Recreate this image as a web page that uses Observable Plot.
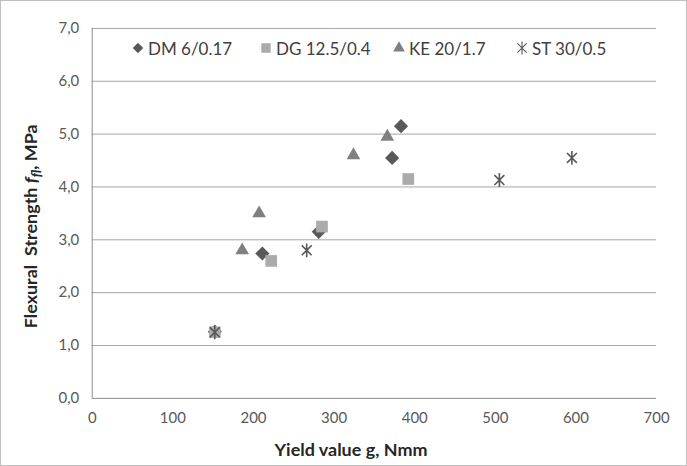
<!DOCTYPE html>
<html>
<head>
<meta charset="utf-8">
<script src="https://cdn.jsdelivr.net/npm/d3@7"></script>
<script src="https://cdn.jsdelivr.net/npm/@observablehq/plot@0.6"></script>
<style>
  html, body { margin: 0; padding: 0; background: #fff; }
  #chart { position: relative; width: 687px; height: 466px; box-sizing: border-box; border: 1px solid #bfbfbf; overflow: hidden; font-family: Lato, "Open Sans", sans-serif; }
  #chart > svg { position: absolute; left: -1px; top: -1px; }
  #legend { position: absolute; top: 0; left: 0; font-size: 17px; color: #404040; }
  #legend .item { position: absolute; display: flex; align-items: center; white-space: nowrap; height: 20px; }
  #legend svg { margin-right: 3px; }
</style>
</head>
<body>
<div id="chart"><div id="legend"></div></div>
<script>
const seriesNames = ["DM 6/0.17", "DG 12.5/0.4", "KE 20/1.7", "ST 30/0.5"];
const dmX = [152, 211, 281, 372, 383];
const dmY = [1.26, 2.74, 3.15, 4.55, 5.15];
const dgX = [152, 222, 285, 392];
const dgY = [1.25, 2.60, 3.25, 4.15];
const keX = [186, 207, 324, 366];
const keY = [2.80, 3.50, 4.60, 4.95];
const stX = [152, 266, 505, 595];
const stY = [1.25, 2.80, 4.13, 4.55];
const xTicks = [0, 100, 200, 300, 400, 500, 600, 700];
const yTicks = [0, 1, 2, 3, 4, 5, 6, 7];
const xTitle = "Yield value g, Nmm";

const toRows = (xs, ys, s) => xs.map((x, i) => ({x, y: ys[i], s}));
const dm = toRows(dmX, dmY, seriesNames[0]);
const dg = toRows(dgX, dgY, seriesNames[1]);
const ke = toRows(keX, keY, seriesNames[2]);
const st = toRows(stX, stY, seriesNames[3]);

// Excel-like star: vertical line plus an X
const starSymbol = {
  draw(context, size) {
    const r = Math.sqrt(size / Math.PI);
    const d = r * Math.SQRT1_2;
    context.moveTo(0, -r); context.lineTo(0, r);
    context.moveTo(-d, -d); context.lineTo(d, d);
    context.moveTo(-d, d); context.lineTo(d, -d);
  }
};

const colDM = "#595959", colDG = "#ababab", colKE = "#808080", colST = "#595959";

const plot = Plot.plot({
  width: 687,
  height: 466,
  marginLeft: 92,
  marginRight: 29,
  marginTop: 28,
  marginBottom: 67,
  style: { fontFamily: "Lato, 'Open Sans', sans-serif", fontSize: "15px", color: "#595959", background: "transparent" },
  x: { domain: [0, 700], label: null },
  y: { domain: [0, 7], label: null },
  marks: [
    Plot.gridY(yTicks.slice(1), { stroke: "#a6a6a6", strokeOpacity: 1 }),
    Plot.ruleY([0], { stroke: "#8c8c8c" }),
    Plot.ruleX([0], { stroke: "#8c8c8c" }),
    Plot.axisX({ ticks: xTicks, tickSize: 0, tickPadding: 14, label: null, fill: "#595959", fontSize: 15 }),
    Plot.axisY({ ticks: yTicks, tickSize: 0, tickPadding: 13, label: null, fill: "#595959", fontSize: 15,
                 tickFormat: d => d.toFixed(1).replace(".", ",") }),
    Plot.dot(dm, { x: "x", y: "y", symbol: "diamond2", r: 6.4, fill: colDM, stroke: "none" }),
    Plot.dot(dg, { x: "x", y: "y", symbol: "square", r: 6.6, fill: colDG, stroke: "none" }),
    Plot.dot(ke, { x: "x", y: "y", symbol: "triangle", r: 5.1, fill: colKE, stroke: "none" }),
    Plot.dot(st, { x: "x", y: "y", symbol: starSymbol, r: 7, fill: "none", stroke: colST, strokeWidth: 1.6 })
  ]
});

const chart = document.getElementById("chart");
chart.insertBefore(plot, chart.firstChild);

const svg = d3.select(plot);
// X axis title
svg.append("text")
  .attr("x", 352).attr("y", 457)
  .attr("text-anchor", "middle")
  .attr("font-size", 18).attr("font-weight", "bold").attr("fill", "#262626")
  .text(xTitle);
// Y axis title with italic f and subscript fl
const yt = svg.append("text")
  .attr("transform", "translate(37,227) rotate(-90)")
  .attr("text-anchor", "middle")
  .attr("font-size", 18).attr("font-weight", "bold").attr("fill", "#262626")
  .attr("xml:space", "preserve");
yt.append("tspan").text("Flexural\u00a0 Strength ");
yt.append("tspan").attr("font-style", "italic").text("f");
yt.append("tspan").attr("font-style", "italic").attr("font-size", 13).attr("dy", 4).text("fl");
yt.append("tspan").attr("dy", -4).text(", MPa");

// Legend
const legendItems = [
  { name: seriesNames[0], type: d3.symbolDiamond2, size: 70, fill: colDM, left: 130 },
  { name: seriesNames[1], type: d3.symbolSquare, size: 90, fill: colDG, left: 258 },
  { name: seriesNames[2], type: d3.symbolTriangle, size: 60, fill: colKE, left: 391 },
  { name: seriesNames[3], type: starSymbol, size: Math.PI * 42, stroke: colST, left: 514 }
];
const legend = d3.select("#legend");
legendItems.forEach(it => {
  const item = legend.append("div").attr("class", "item")
    .style("left", it.left + "px").style("top", "37px");
  const s = item.append("svg").attr("width", 14).attr("height", 14);
  s.append("path")
    .attr("transform", "translate(7,7)")
    .attr("d", d3.symbol(it.type, it.size)())
    .attr("fill", it.fill || "none")
    .attr("stroke", it.stroke || "none")
    .attr("stroke-width", 1.1);
  item.append("span").text(it.name);
});
</script>
</body>
</html>
